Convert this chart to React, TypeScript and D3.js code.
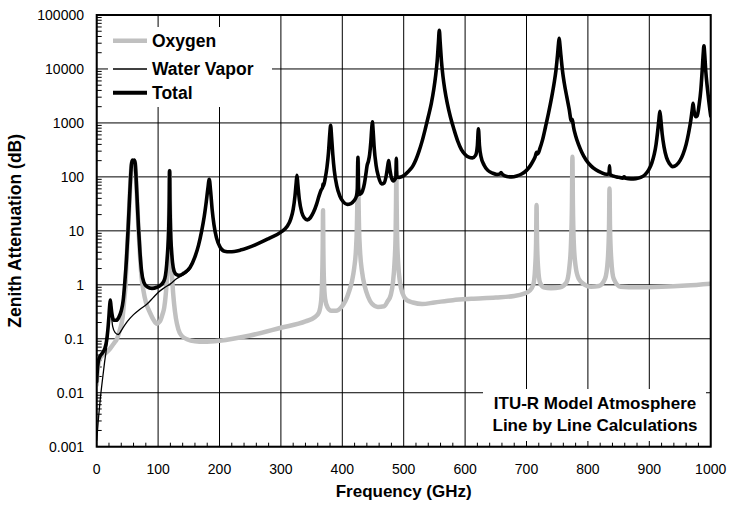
import React from 'react';
import * as d3 from 'd3';

const W = 730;
const H = 508;
const PL = 96.7, PR = 710.7, PT = 15, PB = 446.7;

const xTickValues = [0, 100, 200, 300, 400, 500, 600, 700, 800, 900, 1000];
const yTickValues = [0.001, 0.01, 0.1, 1, 10, 100, 1000, 10000, 100000];
const yTickLabels = ['0.001', '0.01', '0.1', '1', '10', '100', '1000', '10000', '100000'];
const legendLabels = ['Oxygen', 'Water Vapor', 'Total'];
const noteLines = ['ITU-R Model Atmosphere', 'Line by Line Calculations'];

// [frequency GHz, attenuation dB]
const oxygen: [number, number][] = [
  [0, 0.014], [2, 0.03], [5, 0.042], [10, 0.05], [16, 0.056], [22, 0.066], [28, 0.082], [33, 0.1],
  [38, 0.15], [42, 0.24], [45, 0.55], [47, 1.0], [48.5, 2.6], [51, 9.5], [53, 28], [55, 85],
  [56.5, 158], [58, 198], [59.5, 183], [61, 198], [62.5, 178], [64, 100], [66, 33], [68, 11],
  [70.5, 3.5], [73, 1.4], [76, 0.8], [80, 0.48], [87, 0.3], [93, 0.22], [98, 0.19], [103, 0.21],
  [107, 0.28], [110, 0.38], [112, 0.58], [114, 1.1], [115.7, 2.3], [117.2, 7], [118.2, 30],
  [118.75, 128], [119.3, 30], [120.3, 7], [121.8, 2.3], [123.5, 1.0], [126, 0.45], [129, 0.24],
  [133, 0.15], [138, 0.115], [148, 0.097], [160, 0.09], [175, 0.088], [200, 0.092], [250, 0.115],
  [300, 0.16], [340, 0.21], [355, 0.25], [362, 0.31], [365.5, 0.5], [367.2, 1.3], [368.1, 5],
  [368.6, 24], [369.1, 5], [370, 1.3], [372, 0.55], [376, 0.38], [382, 0.33], [390, 0.33],
  [398, 0.38], [405, 0.5], [411, 0.75], [416, 1.2], [419.5, 2.1], [422, 4], [423.8, 12],
  [424.8, 50], [425.5, 190], [426.2, 50], [427.2, 12], [429, 4], [432, 1.8], [437, 0.9],
  [442, 0.6], [448, 0.45], [458, 0.39], [468, 0.4], [474, 0.5], [479, 0.65], [482.5, 1.1],
  [485, 2.5], [486.8, 8], [487.5, 35], [488, 125], [488.5, 35], [489.2, 8], [491, 2.5],
  [494, 1.1], [498, 0.7], [505, 0.52], [515, 0.47], [530, 0.44], [550, 0.47], [580, 0.52],
  [610, 0.55], [650, 0.58], [680, 0.62], [695, 0.68], [705, 0.78], [711, 1.0], [714, 2.0],
  [715.6, 6], [716.4, 30], [717.2, 6], [719, 2.0], [722, 1.1], [728, 0.9], [740, 0.86],
  [755, 0.9], [765, 1.1], [770, 2.2], [772.5, 6], [774, 30], [774.8, 235], [775.6, 30],
  [777, 6], [780, 2.2], [785, 1.3], [795, 1.0], [805, 0.92], [818, 0.95], [828, 1.3],
  [832.5, 3], [834.4, 12], [835.2, 61], [836, 12], [838, 3], [842, 1.3], [853, 0.92],
  [880, 0.9], [920, 0.92], [960, 0.97], [1000, 1.05],
];

const waterVapor: [number, number][] = [
  [0, 0.0013], [3, 0.0035], [6, 0.008], [10, 0.02], [13, 0.038], [16, 0.068], [18.5, 0.13],
  [20.5, 0.26], [22.2, 0.43], [23.8, 0.28], [26, 0.17], [30, 0.13], [35, 0.12], [42, 0.155],
  [50, 0.21], [60, 0.28], [70, 0.35], [82, 0.44], [92, 0.58], [100, 0.72], [110, 0.88],
  [120, 1.04], [130, 1.3], [140, 1.5], [150, 1.85], [152, 2.0], [160, 3.2], [166, 5.4],
  [171, 10], [175, 18], [178.5, 35], [181, 60], [183.3, 90], [185.5, 55], [188, 25], [191, 13],
  [195, 7.5], [201, 5], [208, 4.2], [217, 4.1], [234, 4.4], [260, 5.6], [280, 7.2], [300, 9.5],
  [310, 12], [316, 16.5], [320, 25], [323, 45], [325, 80], [326.2, 107], [327.5, 75], [330, 38],
  [334, 22], [338, 17.5], [343, 16], [348, 17.5], [353, 22], [358, 31], [362, 44], [365.5, 57],
  [368, 64], [372, 92], [375, 150], [377.5, 280], [379.5, 600], [381, 900], [382.5, 560],
  [384.5, 260], [387, 130], [391, 68], [396, 44], [402, 34], [408, 31], [414, 32], [419, 36],
  [423, 42], [429, 47], [433, 55], [436, 75], [438.5, 115], [440.5, 165], [442.5, 195],
  [444.5, 260], [446.5, 450], [448, 800], [449, 1050], [450.2, 720], [452, 340], [455, 165],
  [459, 100], [464, 74], [468, 77], [471.5, 105], [474, 160], [475.5, 200], [477, 150],
  [480, 97], [483.5, 84], [488, 92], [493, 97], [498, 102], [504, 115], [510, 135], [515, 160],
  [520, 210], [525, 300], [530, 460], [535, 760], [540, 1300], [545, 2300], [549, 4200],
  [552, 7500], [554.5, 14000], [556.5, 30000], [558, 52000], [559.5, 30000], [561.5, 14000],
  [564, 7200], [567, 4100], [571, 2300], [576, 1300], [582, 750], [588, 460], [594, 320],
  [600, 260], [606, 232], [612, 225], [617, 250], [620, 380], [621.7, 780], [623.4, 380],
  [626, 235], [631, 165], [637, 132], [645, 117], [652, 111], [656.5, 113], [658.5, 120],
  [660.5, 112], [668, 102], [676, 100], [684, 104], [692, 113], [700, 132], [706, 160],
  [711, 200], [714, 230], [718.5, 265], [722, 340], [726, 480], [731, 850], [736, 1550],
  [741, 3000], [745, 5500], [748, 9500], [750.5, 18000], [752.2, 30000], [753.2, 37000],
  [754.2, 30000], [756, 18000], [758.5, 9500], [761.5, 5500], [765.5, 3100], [769.5, 1800],
  [773, 1080], [776.5, 840], [780, 575], [785, 390], [790, 285], [797, 205], [805, 160],
  [813, 135], [822, 120], [830, 112], [836, 110], [842, 103], [850, 98], [856.5, 95], [859, 100],
  [861.5, 94], [870, 92], [878, 93], [886, 98], [893, 110], [899, 135], [904, 180], [908, 260],
  [911, 400], [913.5, 680], [915.8, 1200], [917.2, 1650], [918.8, 1150], [921, 620], [924, 360],
  [928, 230], [933, 175], [938, 155], [944, 165], [950, 200], [955, 265], [960, 400], [964, 650],
  [967.5, 1100], [970, 1800], [971.3, 2300], [972.8, 1700], [975.5, 1300], [978, 1350],
  [981, 2100], [984, 4200], [986.3, 10000], [987.8, 19000], [989, 27000], [990.2, 19000],
  [992, 9000], [994.5, 4500], [997, 2500], [1000, 1350],
];

const total: [number, number][] = [
  [0, 0.016], [1, 0.026], [2.5, 0.037], [5, 0.046], [9, 0.054], [13, 0.065], [16, 0.09],
  [18, 0.14], [19.8, 0.25], [21.2, 0.42], [22.2, 0.52], [23.3, 0.4], [25, 0.28], [28, 0.22],
  [32, 0.22], [36, 0.25], [40, 0.33], [43, 0.5], [46, 1.2], [48.5, 3], [51, 10], [53, 30],
  [55, 90], [56.5, 165], [58, 205], [59.5, 190], [61, 205], [62.5, 185], [64, 105], [66, 35],
  [68, 12], [70.5, 4], [73, 1.8], [77, 1.1], [82, 0.92], [90, 0.86], [98, 0.9], [104, 0.98],
  [109, 1.15], [112, 1.5], [114, 2.4], [115.7, 4.5], [117.2, 10], [118.2, 35], [118.75, 130],
  [119.3, 35], [120.3, 10], [121.8, 4.5], [123.5, 2.6], [126, 1.8], [130, 1.55], [135, 1.5],
  [142, 1.65], [152, 2.1], [160, 3.3], [166, 5.5], [171, 10], [175, 18], [178.5, 35], [181, 60],
  [183.3, 90], [185.5, 55], [188, 25], [191, 13], [195, 7.5], [201, 5], [208, 4.2], [217, 4.1],
  [234, 4.4], [260, 5.6], [280, 7.2], [300, 9.5], [310, 12], [316, 16.5], [320, 25], [323, 45],
  [325, 80], [326.2, 107], [327.5, 75], [330, 38], [334, 22], [338, 17.5], [343, 16], [348, 17.5],
  [353, 22], [358, 31], [362, 44], [365.5, 57], [368, 64], [368.6, 74], [369.2, 67], [372, 92],
  [375, 150], [377.5, 280], [379.5, 600], [381, 900], [382.5, 560], [384.5, 260], [387, 130],
  [391, 68], [396, 44], [402, 34], [408, 31], [414, 32], [419, 36], [423, 44], [424.6, 60],
  [425.5, 230], [426.4, 62], [429, 48], [433, 55], [436, 75], [438.5, 115], [440.5, 165],
  [442.5, 195], [444.5, 260], [446.5, 450], [448, 800], [449, 1050], [450.2, 720], [452, 340],
  [455, 165], [459, 100], [464, 74], [468, 77], [471.5, 105], [474, 160], [475.5, 200], [477, 150],
  [480, 97], [483.5, 84], [487.2, 100], [488, 220], [488.8, 102], [493, 98], [498, 102],
  [504, 115], [510, 135], [515, 160], [520, 210], [525, 300], [530, 460], [535, 760], [540, 1300],
  [545, 2300], [549, 4200], [552, 7500], [554.5, 14000], [556.5, 30000], [558, 52000],
  [559.5, 30000], [561.5, 14000], [564, 7200], [567, 4100], [571, 2300], [576, 1300], [582, 750],
  [588, 460], [594, 320], [600, 260], [606, 232], [612, 225], [617, 250], [620, 380], [621.7, 780],
  [623.4, 380], [626, 235], [631, 165], [637, 132], [645, 117], [652, 111], [656.5, 113],
  [658.5, 120], [660.5, 112], [668, 102], [676, 100], [684, 104], [692, 113], [700, 132],
  [706, 160], [711, 200], [714, 235], [716.4, 285], [718.5, 270], [722, 340], [726, 480],
  [731, 850], [736, 1550], [741, 3000], [745, 5500], [748, 9500], [750.5, 18000], [752.2, 30000],
  [753.2, 37000], [754.2, 30000], [756, 18000], [758.5, 9500], [761.5, 5500], [765.5, 3100],
  [769.5, 1800], [773, 1100], [774.8, 1150], [776.5, 850], [780, 580], [785, 390], [790, 285],
  [797, 205], [805, 160], [813, 135], [822, 120], [830, 112], [834.3, 114], [835.2, 160],
  [836.1, 112], [842, 103], [850, 98], [856.5, 95], [859, 100], [861.5, 94], [870, 92], [878, 93],
  [886, 98], [893, 110], [899, 135], [904, 180], [908, 260], [911, 400], [913.5, 680],
  [915.8, 1200], [917.2, 1650], [918.8, 1150], [921, 620], [924, 360], [928, 230], [933, 175],
  [938, 155], [944, 165], [950, 200], [955, 265], [960, 400], [964, 650], [967.5, 1100],
  [970, 1800], [971.3, 2300], [972.8, 1700], [975.5, 1300], [978, 1350], [981, 2100], [984, 4200],
  [986.3, 10000], [987.8, 19000], [989, 27000], [990.2, 19000], [992, 9000], [994.5, 4500],
  [997, 2500], [1000, 1350],
];

const FONT = '"Liberation Sans", Arial, Helvetica, sans-serif';

export default function App() {
  const x = d3.scaleLinear().domain([0, 1000]).range([PL, PR]);
  const y = d3.scaleLog().domain([0.001, 100000]).range([PB, PT]);
  const line = d3
    .line<[number, number]>()
    .x((d) => x(d[0]))
    .y((d) => y(d[1]))
    .curve(d3.curveMonotoneX);

  const minorY: number[] = [];
  for (let e = -3; e < 5; e++) {
    for (let k = 2; k <= 9; k++) minorY.push(k * Math.pow(10, e));
  }
  const minorX: number[] = [];
  for (let v = 20; v < 1000; v += 20) if (v % 100 !== 0) minorX.push(v);

  const legendY = [40.7, 69, 92.7];
  const legendStyles = [
    { stroke: '#c0c0c0', w: 4.5 },
    { stroke: '#000', w: 1.3 },
    { stroke: '#000', w: 4 },
  ];

  return (
    <svg
      width={W}
      height={H}
      style={{ position: 'absolute', left: 0, top: 0, background: '#fff' }}
      fontFamily={FONT}
    >
      <defs>
        <clipPath id="plotClip">
          <rect x={PL} y={PT} width={PR - PL} height={PB - PT} />
        </clipPath>
      </defs>
      <rect x={0} y={0} width={W} height={H} fill="#fff" />
      {/* grid */}
      {xTickValues.map((v) => (
        <line key={'gx' + v} x1={x(v)} x2={x(v)} y1={PT} y2={PB} stroke="#000" strokeWidth={1} />
      ))}
      {yTickValues.map((v) => (
        <line key={'gy' + v} x1={PL} x2={PR} y1={y(v)} y2={y(v)} stroke="#000" strokeWidth={1} />
      ))}
      {/* minor ticks */}
      {minorY.map((v, i) => (
        <line key={'my' + i} x1={PL} x2={PL + 5} y1={y(v)} y2={y(v)} stroke="#000" strokeWidth={1} />
      ))}
      {minorX.map((v) => (
        <line key={'mx' + v} x1={x(v)} x2={x(v)} y1={PB} y2={PB - 4} stroke="#000" strokeWidth={1} />
      ))}
      {/* legend and note backgrounds */}
      <rect x={108} y={27} width={164} height={80} fill="#fff" />
      <rect x={483} y={389} width={223} height={52} fill="#fff" />
      {/* curves */}
      <g clipPath="url(#plotClip)" fill="none" strokeLinejoin="round" strokeLinecap="round">
        <path d={line(oxygen) || ''} stroke="#c0c0c0" strokeWidth={4.5} />
        <path d={line(waterVapor) || ''} stroke="#000" strokeWidth={1.3} />
        <path d={line(total) || ''} stroke="#000" strokeWidth={3.6} />
      </g>
      {/* frame */}
      <rect x={PL} y={PT} width={PR - PL} height={PB - PT} fill="none" stroke="#000" strokeWidth={2} />
      {/* tick labels */}
      {yTickValues.map((v, i) => (
        <text key={'ly' + v} x={84} y={y(v) + 5} textAnchor="end" fontSize={14} fill="#000">
          {yTickLabels[i]}
        </text>
      ))}
      {xTickValues.map((v) => (
        <text key={'lx' + v} x={x(v)} y={474} textAnchor="middle" fontSize={14} fill="#000">
          {String(v)}
        </text>
      ))}
      {/* axis titles */}
      <text x={x(500)} y={497} textAnchor="middle" fontSize={17} fontWeight="bold">
        Frequency (GHz)
      </text>
      <text
        transform={`translate(21, ${(PT + PB) / 2}) rotate(-90)`}
        textAnchor="middle"
        fontSize={17.5}
        fontWeight="bold"
      >
        Zenith Attenuation (dB)
      </text>
      {/* legend */}
      {legendLabels.map((lab, i) => (
        <g key={lab}>
          <line
            x1={113}
            x2={147}
            y1={legendY[i]}
            y2={legendY[i]}
            stroke={legendStyles[i].stroke}
            strokeWidth={legendStyles[i].w}
          />
          <text x={152} y={legendY[i] + 6} fontSize={17.5} fontWeight="bold">
            {lab}
          </text>
        </g>
      ))}
      {/* note */}
      {noteLines.map((t, i) => (
        <text key={t} x={595} y={409 + i * 22} textAnchor="middle" fontSize={17} fontWeight="bold">
          {t}
        </text>
      ))}
    </svg>
  );
}
